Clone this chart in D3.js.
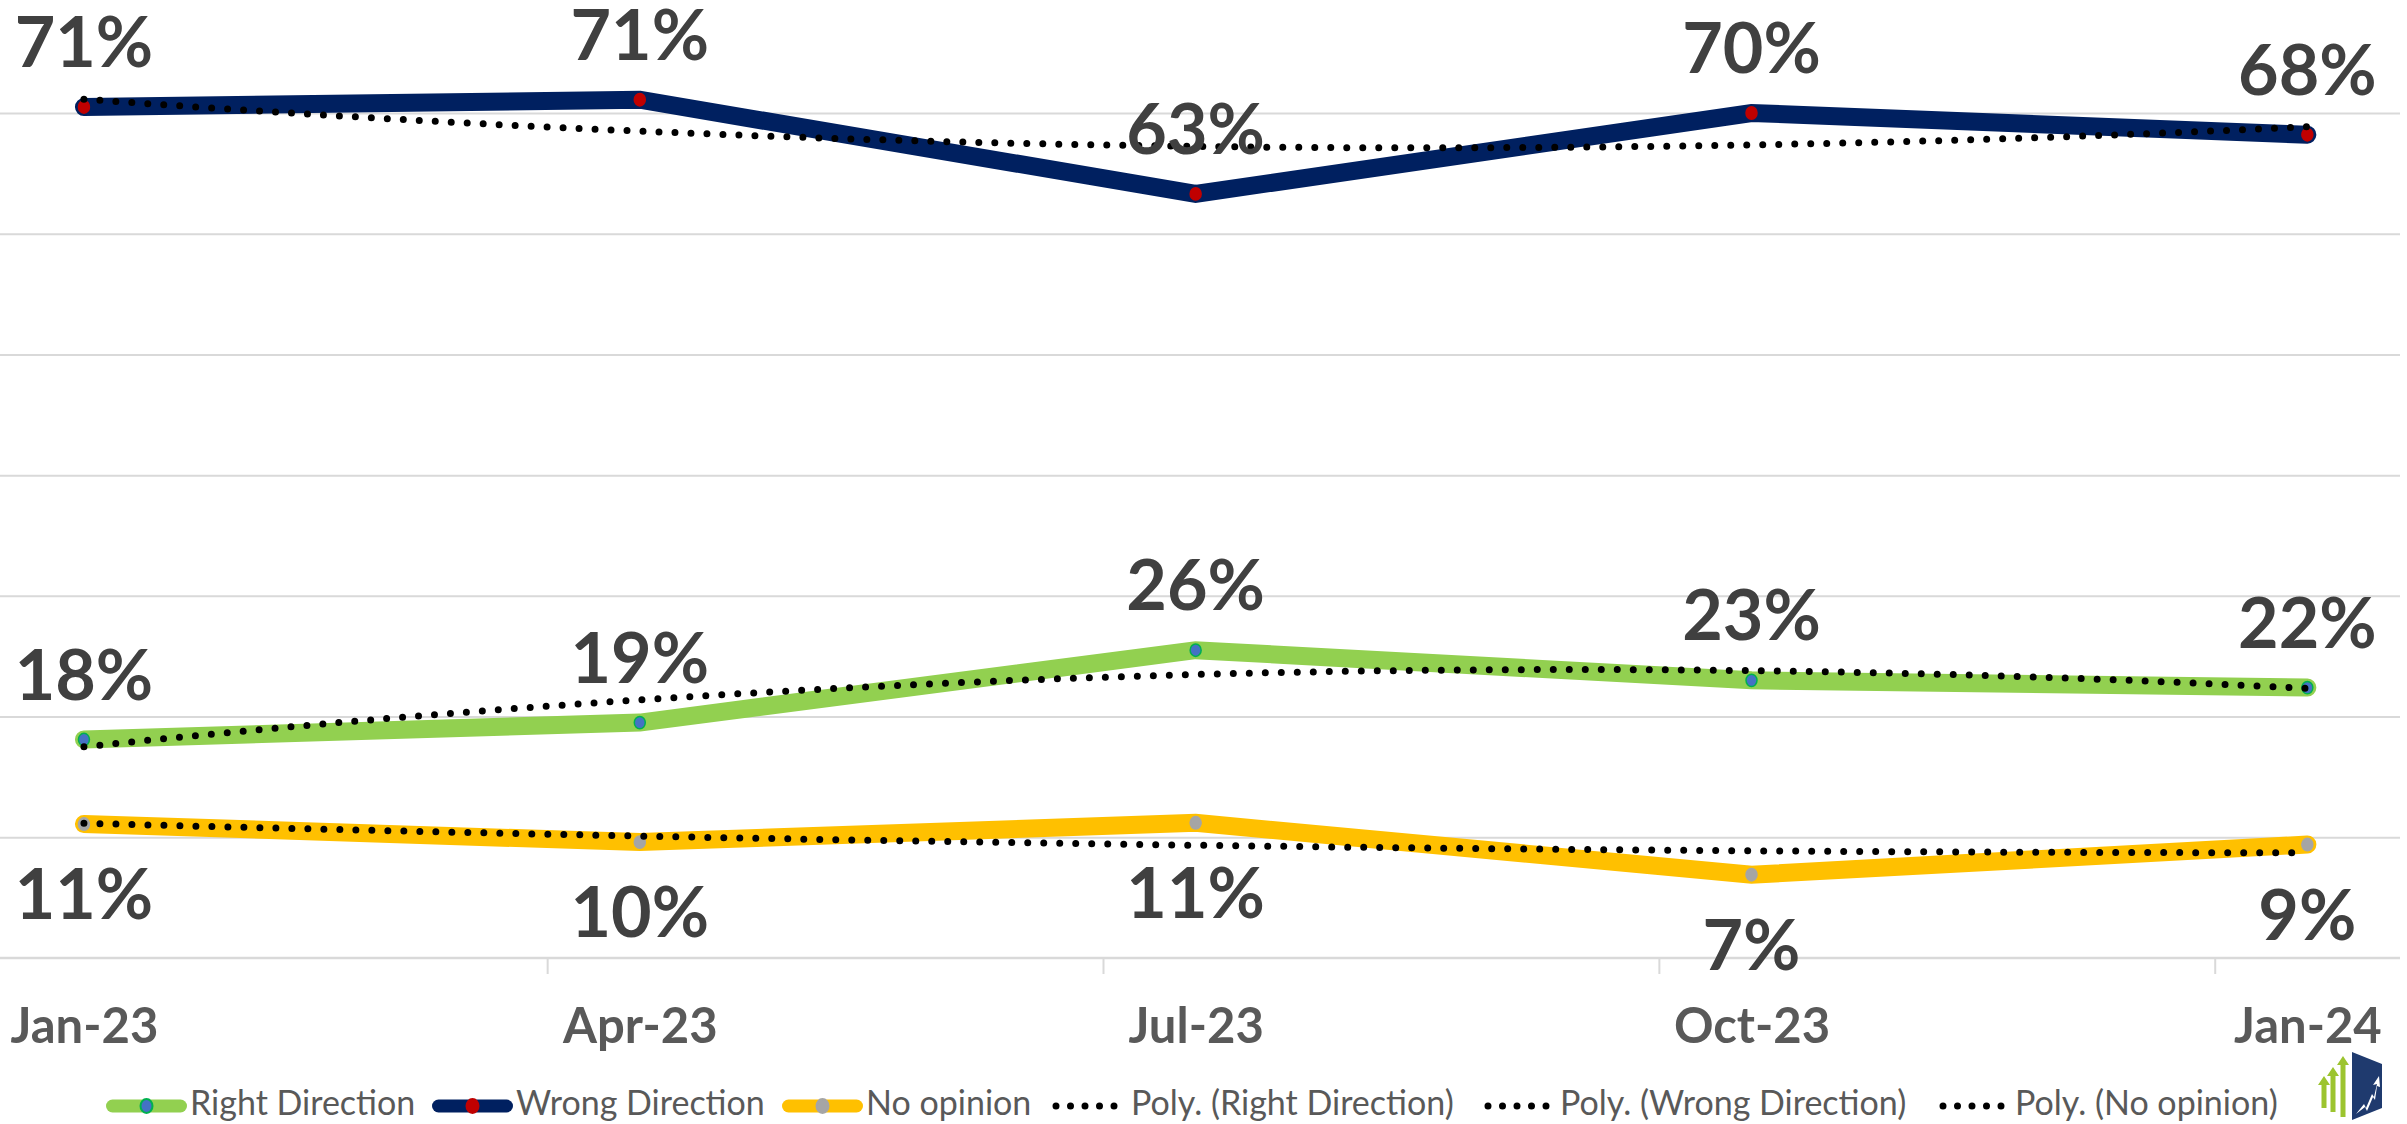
<!DOCTYPE html>
<html><head><meta charset="utf-8">
<script src="https://cdn.jsdelivr.net/npm/d3@7"></script>
<style>
html,body{margin:0;padding:0;background:#fff;overflow:hidden}
text{font-family:Lato,"Liberation Sans",sans-serif}
</style>
</head><body>
<svg id="chart" width="2407" height="1124"></svg>
<script>
// ---- data ----
const categories = ["Jan-23", "Apr-23", "Jul-23", "Oct-23", "Jan-24"];
const monthIndex = [0, 3, 6, 9, 12];
const rightDirection = [18.1, 19.5, 25.5, 23.0, 22.4];
const wrongDirection = [70.5, 71.1, 63.3, 70.0, 68.2];
const noOpinion = [11.1, 9.6, 11.2, 6.9, 9.4];
const rightLabels = ["18%", "19%", "26%", "23%", "22%"];
const wrongLabels = ["71%", "71%", "63%", "70%", "68%"];
const noOpinionLabels = ["11%", "10%", "11%", "7%", "9%"];
const gridValues = [10, 20, 30, 40, 50, 60, 70];
const seriesNames = ["Right Direction", "Wrong Direction", "No opinion"];
const trendNames = ["Poly. (Right Direction)", "Poly. (Wrong Direction)", "Poly. (No opinion)"];

// ---- setup ----
const svg = d3.select("#chart");
const plotLeft = -8.7, plotRight = 2400, axisY = 958, topY = 113;
const x = d3.scaleLinear().domain([0, 13]).range([plotLeft, plotRight]);
const y = d3.scaleLinear().domain([0, 70]).range([axisY, topY]);
const px = m => x(m + 0.5);
const FONT = 'Lato,"Liberation Sans",sans-serif';

const series = [
  {name: seriesNames[0], values: rightDirection, labels: rightLabels, color: "#92d050", marker: "#4472c4", mstroke: "#00b050", labelPos: "above"},
  {name: seriesNames[1], values: wrongDirection, labels: wrongLabels, color: "#002060", marker: "#c00000", mstroke: "#c00000", labelPos: "above"},
  {name: seriesNames[2], values: noOpinion, labels: noOpinionLabels, color: "#ffc000", marker: "#a5a5a5", mstroke: "#a5a5a5", labelPos: "below"}
];

// gridlines
const grid = svg.append("g")
  .call(d3.axisLeft(y).tickValues(gridValues).tickSize(-plotRight).tickFormat(""));
grid.select(".domain").remove();
grid.selectAll(".tick line").attr("x1", 0).attr("x2", plotRight).attr("stroke", "#d9d9d9").attr("stroke-width", 2);

// x axis: tick marks between categories
const xTickAxis = svg.append("g").attr("transform", `translate(0,${axisY})`)
  .call(d3.axisBottom(x).tickValues([3, 6, 9, 12]).tickSize(16).tickFormat(""));
xTickAxis.select(".domain").remove();
xTickAxis.selectAll(".tick line").attr("stroke", "#d9d9d9").attr("stroke-width", 2);
svg.append("line").attr("x1", 0).attr("x2", plotRight).attr("y1", y(0)).attr("y2", y(0))
  .attr("stroke", "#d9d9d9").attr("stroke-width", 2.5);

// x axis labels
const xLabelAxis = svg.append("g").attr("transform", `translate(0,${axisY})`)
  .call(d3.axisBottom(x).tickValues(monthIndex.map(m => m + 0.5)).tickSize(0)
    .tickFormat((d, i) => categories[i]));
xLabelAxis.select(".domain").remove();
xLabelAxis.selectAll(".tick text").attr("y", 85).attr("dy", 0)
  .attr("font-size", 49).attr("font-weight", "bold").attr("fill", "#595959")
  .style("font-family", FONT);

// series lines
const line = d3.line().x((d, i) => px(monthIndex[i])).y(d => y(d));
series.forEach(s => {
  svg.append("path").datum(s.values).attr("d", line)
    .attr("fill", "none").attr("stroke", s.color).attr("stroke-width", 18)
    .attr("stroke-linecap", "round").attr("stroke-linejoin", "miter");
});
series.forEach(s => {
  svg.append("g").selectAll("ellipse").data(s.values).join("ellipse")
    .attr("cx", (d, i) => px(monthIndex[i])).attr("cy", d => y(d))
    .attr("rx", 5.5).attr("ry", 6.2)
    .attr("fill", s.marker).attr("stroke", s.mstroke).attr("stroke-width", 1.5);
});

// polynomial (order 2) trendlines: least squares fit of each series
function polyfit2(xs, ys) {
  const n = xs.length;
  const S = [0, 0, 0, 0, 0], T = [0, 0, 0];
  for (let i = 0; i < n; i++) {
    for (let k = 0; k < 5; k++) S[k] += Math.pow(xs[i], k);
    for (let k = 0; k < 3; k++) T[k] += ys[i] * Math.pow(xs[i], k);
  }
  const A = [[S[0], S[1], S[2], T[0]], [S[1], S[2], S[3], T[1]], [S[2], S[3], S[4], T[2]]];
  for (let c = 0; c < 3; c++) {
    for (let r = c + 1; r < 3; r++) {
      const f = A[r][c] / A[c][c];
      for (let k = c; k < 4; k++) A[r][k] -= f * A[c][k];
    }
  }
  const b = [0, 0, 0];
  for (let r = 2; r >= 0; r--) {
    let s = A[r][3];
    for (let k = r + 1; k < 3; k++) s -= A[r][k] * b[k];
    b[r] = s / A[r][r];
  }
  return t => b[0] + b[1] * t + b[2] * t * t;
}
const trendLine = d3.line().x(d => px(d[0])).y(d => y(d[1]));
series.forEach(s => {
  const f = polyfit2(monthIndex, s.values);
  const samples = d3.range(0, 12.001, 0.1).map(t => [t, f(t)]);
  svg.append("path").datum(samples).attr("d", trendLine)
    .attr("fill", "none").attr("stroke", "#000").attr("stroke-width", 7)
    .attr("stroke-linecap", "round").attr("stroke-dasharray", "0 16");
});

// data labels
series.forEach(s => {
  svg.append("g").selectAll("text").data(s.values).join("text")
    .attr("x", (d, i) => px(monthIndex[i]))
    .attr("y", d => s.labelPos === "above" ? y(d) - 40 : y(d) + 95)
    .attr("text-anchor", "middle").attr("font-size", 70).attr("font-weight", "bold")
    .attr("fill", "#404040")
    .text((d, i) => s.labels[i]);
});

// legend
const legY = 1106, legBase = 1115;
const legendItems = [
  {type: "series", s: series[0], x0: 106, x1: 187, tx: 190, text: seriesNames[0]},
  {type: "series", s: series[1], x0: 432, x1: 513, tx: 516, text: seriesNames[1]},
  {type: "series", s: series[2], x0: 782, x1: 863, tx: 866, text: seriesNames[2]},
  {type: "trend", x0: 1054, x1: 1127, tx: 1131, text: trendNames[0]},
  {type: "trend", x0: 1486, x1: 1557, tx: 1560, text: trendNames[1]},
  {type: "trend", x0: 1941, x1: 2012, tx: 2015, text: trendNames[2]}
];
const leg = svg.append("g");
legendItems.forEach(it => {
  if (it.type === "series") {
    leg.append("line").attr("x1", it.x0 + 6.5).attr("x2", it.x1 - 6.5).attr("y1", legY).attr("y2", legY)
      .attr("stroke", it.s.color).attr("stroke-width", 13).attr("stroke-linecap", "round");
    leg.append("ellipse").attr("cx", (it.x0 + it.x1) / 2).attr("cy", legY).attr("rx", 6).attr("ry", 7)
      .attr("fill", it.s.marker).attr("stroke", it.s.mstroke).attr("stroke-width", 2);
  } else {
    leg.append("line").attr("x1", it.x0 + 2).attr("x2", it.x1).attr("y1", legY).attr("y2", legY)
      .attr("stroke", "#000").attr("stroke-width", 7).attr("stroke-linecap", "round")
      .attr("stroke-dasharray", "0 14.5");
  }
  leg.append("text").attr("x", it.tx).attr("y", legBase).attr("font-size", 34)
    .attr("fill", "#595959").text(it.text);
});

// logo
const logo = svg.append("g");
logo.append("path").attr("d", "M2352,1052 L2382,1064 L2382,1108 L2352,1120 Z").attr("fill", "#1f3a6e");
logo.append("path").attr("d", "M2356,1114 L2364,1104 L2366,1108 L2372,1094 L2374,1097 L2377,1084 L2373,1085 L2379,1076 L2380,1087 L2377,1086 L2375,1100 L2373,1097 L2367,1111 L2365,1107 Z").attr("fill", "#fff");
[[2324, 1076, 1108], [2333, 1067, 1112], [2343, 1056, 1117]].forEach(a => {
  const [cx, t, b] = a;
  logo.append("path").attr("d", `M${cx - 2.5},${b} L${cx - 2.5},${t + 9} L${cx - 6},${t + 9} L${cx},${t} L${cx + 6},${t + 9} L${cx + 2.5},${t + 9} L${cx + 2.5},${b} Z`)
    .attr("fill", "#9cc42f");
});
</script>
</body></html>
